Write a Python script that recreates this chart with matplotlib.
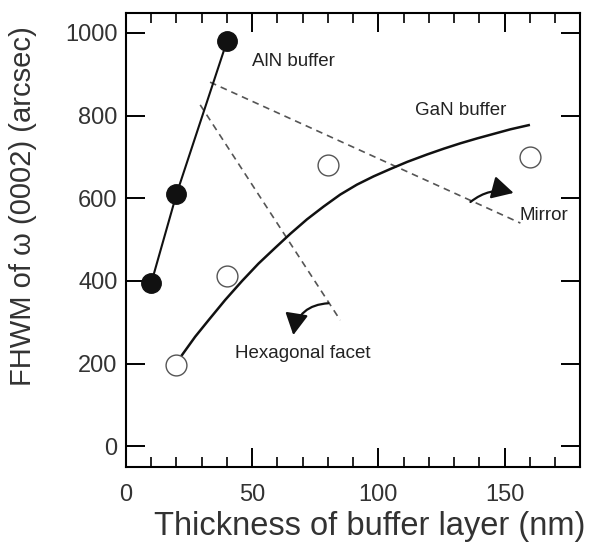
import matplotlib
matplotlib.use('Agg')
import matplotlib.pyplot as plt
from matplotlib.ticker import MultipleLocator

# AlN buffer (filled circles)
aln_x = [10, 20, 40]
aln_y = [395, 610, 980]

# GaN buffer (open circles)
gan_x = [20, 40, 80, 160]
gan_y = [197, 412, 680, 700]

# GaN trend curve
gan_fit_x = [22.1, 27.4, 32.7, 39.3, 46.0, 52.5, 59.1, 65.1, 71.7, 78.3, 84.9,
             91.5, 98.1, 104.8, 111.4, 119.3, 125.9, 132.5, 139.2, 145.8, 152.4, 159.6]
gan_fit_y = [220, 265, 305, 354, 400, 442, 480, 514, 549, 580, 609,
             633, 653, 671, 688, 706, 720, 733, 745, 756, 767, 777]

# dashed guide lines
hex_x = [29.4, 84.9]
hex_y = [826, 305]
mirror_x = [33.3, 156.3]
mirror_y = [881, 540]

plt.rcParams['font.family'] = ['Liberation Sans', 'DejaVu Sans']

fig = plt.figure(figsize=(6.01, 5.48), dpi=100)
ax = fig.add_axes([0.2097, 0.148, 0.7557, 0.828])

ax.plot(hex_x, hex_y, ls=(0, (4, 3)), color='#555555', lw=1.2)
ax.plot(mirror_x, mirror_y, ls=(0, (4, 3)), color='#555555', lw=1.2)

ax.plot(gan_fit_x, gan_fit_y, color='#111111', lw=1.8, solid_joinstyle='round')
ax.plot(aln_x, aln_y, color='#111111', lw=1.5)

ax.plot(aln_x, aln_y, 'o', ms=14, color='#111111', zorder=5)
ax.plot(gan_x, gan_y, 'o', ms=15, mfc='white', mec='#555555', mew=1.0, zorder=5)

txt = dict(fontsize=13.5, color='#222222', va='center')
ax.text(50, 932, 'AlN buffer', **txt)
ax.text(114.7, 813, 'GaN buffer', **txt)
ax.text(156.0, 559, 'Mirror', **txt)
ax.text(43, 225, 'Hexagonal facet', **txt)

arrow = dict(arrowstyle='-|>,head_length=0.6,head_width=0.32', color='#111111', lw=1.6,
             mutation_scale=22, shrinkA=0, shrinkB=0)
ax.annotate('', xy=(66.3, 269), xytext=(80.2, 346),
            arrowprops=dict(arrow, connectionstyle='arc3,rad=0.4'))
ax.annotate('', xy=(153.6, 613), xytext=(136.5, 591),
            arrowprops=dict(arrow, connectionstyle='arc3,rad=-0.25'))

ax.set_xlim(0, 180)
ax.set_ylim(-50, 1048)
ax.xaxis.set_major_locator(MultipleLocator(50))
ax.xaxis.set_minor_locator(MultipleLocator(10))
ax.yaxis.set_major_locator(MultipleLocator(200))
ax.tick_params(axis='both', which='major', direction='in', length=14, width=1.4,
               top=True, right=True, labelsize=17, labelcolor='#333333')
ax.tick_params(axis='x', which='major', pad=12)
ax.tick_params(axis='x', which='minor', direction='in', length=7, width=1.2, top=True)
ax.tick_params(axis='y', which='major', pad=6)
for s in ax.spines.values():
    s.set_linewidth(1.5)

ax.set_xlabel('Thickness of buffer layer (nm)', fontsize=23.5, color='#333333')
ax.set_ylabel('FHWM of ω (0002) (arcsec)', fontsize=21, color='#333333')
ax.xaxis.set_label_coords(0.537, -0.098)
ax.yaxis.set_label_coords(-0.195, 0.575)

fig.savefig('out.png', dpi=100)
